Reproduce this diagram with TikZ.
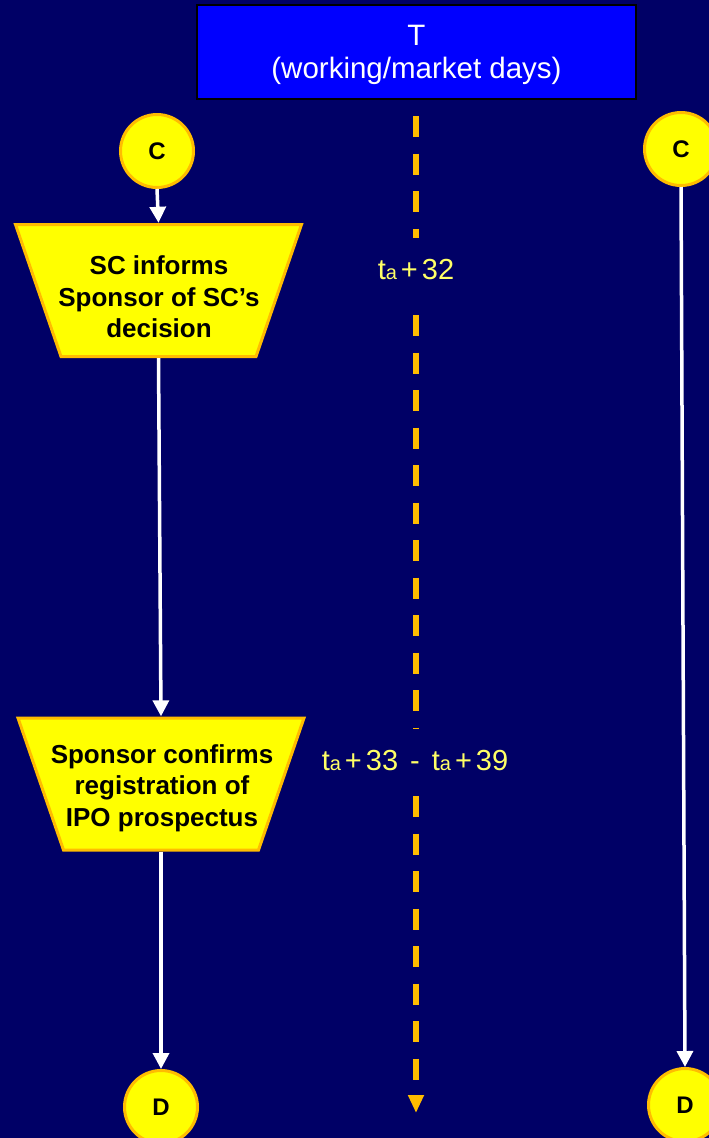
\documentclass[tikz,border=0pt]{standalone}
\usepackage{fontspec}
\setmainfont{Liberation Sans}
\usetikzlibrary{arrows.meta}
\definecolor{navy}{RGB}{0,0,102}
\definecolor{boxblue}{RGB}{0,0,255}
\definecolor{stepyellow}{RGB}{255,255,0}
\definecolor{rim}{RGB}{255,188,0}
\definecolor{daycol}{RGB}{255,255,102}
% day offset "t_a + n" in the timeline labels
\newcommand\tday{t{\fontsize{20}{20}\selectfont a}\hspace{4pt}+\hspace{4pt}}
\begin{document}
\begin{tikzpicture}[x=1pt,y=-1pt,
  title/.style={draw=black, line width=2pt, fill=boxblue, text=white,
    minimum width=439pt, minimum height=94pt, inner sep=0pt, align=center,
    font=\fontsize{29.5}{33}\selectfont},
  joint/.style={circle, draw=rim, fill=stepyellow, line width=3pt,
    minimum size=73pt, inner sep=0pt, font=\bfseries\fontsize{24}{24}\selectfont},
  stepframe/.style={minimum width=289pt, minimum height=135pt, inner sep=0pt},
  stepshape/.style={draw=rim, fill=stepyellow, line width=3pt, line join=miter},
  steptext/.style={align=center, text=black,
    font=\bfseries\fontsize{26}{31.5}\selectfont},
  flow/.style={draw=white, line width=3.5pt, -{Triangle[width=16pt,length=16pt]}},
  axis/.style={draw=rim, line width=6pt, dash pattern=on 21pt off 16.5pt},
  day/.style={text=daycol, font=\fontsize{29}{29}\selectfont, inner sep=0pt}]

\fill[navy] (0,0) rectangle (709,1138);
\useasboundingbox (0,0) rectangle (709,1138);

% heading of the time column
\node[title] (head) at (416.5,52) {\rule{0pt}{27pt}T\\(working/market days)};

% connectors in and out of this page
\node[joint] (c1) at (157,151) {C};
\node[joint] (c2) at (681,149) {C};
\node[joint] (d1) at (161,1107) {D};
\node[joint] (d2) at (685,1105) {D};

% process steps: inverted trapezia (wide side on top)
\node[stepframe] (s1) at (158.5,290.5) {};
\draw[stepshape, shift={(s1.center)}]
  (-143,-66) -- (143,-66) -- (97.5,66) -- (-97.5,66) -- cycle;
\node[steptext] (s1t) at (159,297) {SC informs\\Sponsor of SC’s\\decision};

\node[stepframe] (s2) at (161,784) {};
\draw[stepshape, shift={(s2.center)}]
  (-143,-66) -- (143,-66) -- (97.5,66) -- (-97.5,66) -- cycle;
\node[steptext] (s2t) at (162,788) {Sponsor confirms\\registration of\\IPO prospectus};

% flow of the steps
\draw[flow] (c1.south) -- (s1.north);
\draw[flow] (s1.south) -- (s2.north);
\draw[flow] (s2.south) -- (d1.north);
\draw[flow] (c2.south) -- (d2.north);

% time axis with day labels
\coordinate (ax1) at (416,116);
\coordinate (ax2) at (416,238);
\coordinate (ax3) at (416,315);
\coordinate (ax4) at (416,728);
\coordinate (ax5) at (416,796);
\coordinate (ax6) at (416,1113);
\draw[axis] (ax1) -- (ax2);
\draw[axis] (ax3) -- (ax4);
\draw[axis, -{Triangle[width=15pt,length=18pt]}] (ax5) -- (ax6);

\node[day] (t1) at (416,270) {\tday 32};
\node[day] (t2) at (415,761) {\tday 33\hspace{12pt}-\hspace{12pt}\tday 39};
\end{tikzpicture}
\end{document}
